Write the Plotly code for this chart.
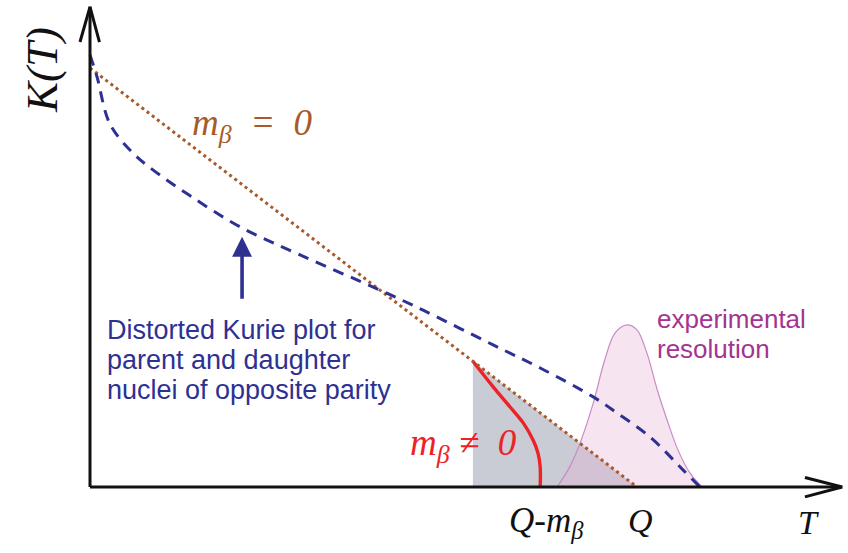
import plotly.graph_objects as go

# ---- data (T in units of Q, K in units of K(0) of the ideal Kurie line) ----
ideal_T = [0.0, 1.0]
ideal_K = [1.0, 0.0]

distorted_T = [0.0, 0.0128, 0.0366, 0.0786, 0.115, 0.183, 0.274, 0.384, 0.530,
               0.609, 0.737, 0.823, 0.920, 0.963, 1.024, 1.084, 1.115]
distorted_K = [1.031, 0.979, 0.866, 0.797, 0.757, 0.695, 0.621, 0.554, 0.470,
               0.422, 0.339, 0.284, 0.215, 0.177, 0.119, 0.041, 0.0]

massive_T = [0.700, 0.737, 0.768, 0.792, 0.810, 0.819, 0.823, 0.823]
massive_K = [0.300, 0.239, 0.191, 0.153, 0.112, 0.081, 0.048, 0.0]

shade_T = [0.700, 0.700, 1.000, 0.700]
shade_K = [0.300, 0.0, 0.0, 0.300]

res_T = [0.854, 0.877, 0.896, 0.920, 0.941, 0.960, 0.982, 1.000, 1.018,
         1.037, 1.055, 1.075, 1.097, 1.119]
res_K = [0.0, 0.048, 0.105, 0.200, 0.303, 0.368, 0.387, 0.375, 0.320,
         0.232, 0.160, 0.088, 0.033, 0.0]

T_axis_end = 1.375
K_axis_end = 1.146

x_range = [-0.16453, 1.38574]
y_range = [-0.15752, 1.16229]

BLUE = "#2E3192"
BROWN = "#A85A2A"
RED = "#EC2227"
PURPLE = "#A3348F"
SERIF = "Liberation Serif"
SANS = "Liberation Sans"

fig = go.Figure()

# grey shaded region under ideal line
fig.add_trace(go.Scatter(x=shade_T, y=shade_K, mode="lines", fill="toself",
                         fillcolor="#C9CCD4", line=dict(width=0), hoverinfo="skip"))
# experimental resolution
fig.add_trace(go.Scatter(x=res_T, y=res_K, mode="lines", fill="toself",
                         fillcolor="rgba(232,176,214,0.34)",
                         line=dict(color="#C98BC5", width=1.2, shape="spline"),
                         hoverinfo="skip"))
# red massive curve
fig.add_trace(go.Scatter(x=massive_T, y=massive_K, mode="lines",
                         line=dict(color=RED, width=3.4, shape="spline"), hoverinfo="skip"))
# ideal dotted line
fig.add_trace(go.Scatter(x=ideal_T, y=ideal_K, mode="lines",
                         line=dict(color=BROWN, width=3, dash="3px,3.5px"), hoverinfo="skip"))
# distorted dashed
fig.add_trace(go.Scatter(x=distorted_T, y=distorted_K, mode="lines",
                         line=dict(color=BLUE, width=3, dash="11px,8px", shape="spline"),
                         hoverinfo="skip"))

# axes with open arrowheads
fig.add_trace(go.Scatter(x=[0, T_axis_end], y=[0, 0], mode="lines",
                         line=dict(color="#111111", width=3), hoverinfo="skip"))
fig.add_trace(go.Scatter(x=[0, 0], y=[0, K_axis_end], mode="lines",
                         line=dict(color="#111111", width=3), hoverinfo="skip"))
fig.add_trace(go.Scatter(x=[1.307, T_axis_end, 1.307], y=[0.0225, 0, -0.0235], mode="lines",
                         line=dict(color="#111111", width=3), hoverinfo="skip"))
fig.add_trace(go.Scatter(x=[-0.0183, 0, 0.0173], y=[1.062, K_axis_end, 1.062], mode="lines",
                         line=dict(color="#111111", width=3), hoverinfo="skip"))

ann = []
# blue arrow
ann.append(dict(x=0.278, y=0.597, ax=0.278, ay=0.446, xref="x", yref="y",
                axref="x", ayref="y", text="", showarrow=True, arrowhead=2,
                arrowsize=1.1, arrowwidth=3.6, arrowcolor=BLUE))
blue_lines = ["Distorted Kurie plot for", "parent and daughter", "nuclei of opposite parity"]
for i, t in enumerate(blue_lines):
    ann.append(dict(x=0.0274, y=0.375 - i * 0.0716, xref="x", yref="y", text=t,
                    showarrow=False, xanchor="left", yanchor="middle",
                    font=dict(family=SANS, size=27, color=BLUE)))
purple_lines = ["experimental", "resolution"]
for i, t in enumerate(purple_lines):
    ann.append(dict(x=1.033, y=0.401 - i * 0.0716, xref="x", yref="y", text=t,
                    showarrow=False, xanchor="left", yanchor="middle",
                    font=dict(family=SANS, size=26, color=PURPLE)))

def math_font(size, color):
    return dict(family=SERIF, size=size, color=color, style="italic")

ann.append(dict(x=0.297, y=0.862, xref="x", yref="y",
                text="m<sub>β</sub>  =  0", showarrow=False,
                font=math_font(37, BROWN)))
ann.append(dict(x=0.683, y=0.098, xref="x", yref="y",
                text="m<sub>β</sub> ≠  0", showarrow=False,
                font=math_font(37, RED)))
ann.append(dict(x=0.835, y=-0.085, xref="x", yref="y",
                text="Q-m<sub>β</sub>", showarrow=False,
                font=math_font(35, "#111111")))
ann.append(dict(x=1.007, y=-0.079, xref="x", yref="y",
                text="Q", showarrow=False,
                font=math_font(34, "#111111")))
ann.append(dict(x=1.314, y=-0.084, xref="x", yref="y",
                text="T", showarrow=False,
                font=math_font(34, "#111111")))
ann.append(dict(x=-0.088, y=0.995, xref="x", yref="y",
                text="K(T)", showarrow=False, textangle=-90,
                font=math_font(45, "#111111")))

fig.update_layout(
    width=848, height=553, margin=dict(l=0, r=0, t=0, b=0),
    paper_bgcolor="white", plot_bgcolor="white", showlegend=False,
    xaxis=dict(range=x_range, visible=False, fixedrange=True),
    yaxis=dict(range=y_range, visible=False, fixedrange=True),
    annotations=ann,
)

fig.write_html("out.html")
